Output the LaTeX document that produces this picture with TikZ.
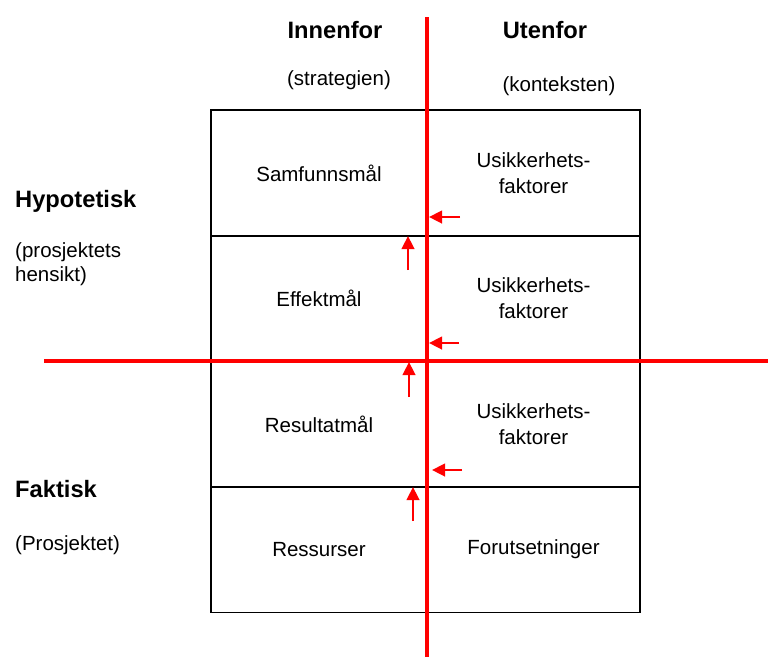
\documentclass[tikz,border=0pt]{standalone}
\usepackage{fontspec}
\setmainfont{Liberation Sans}
\usetikzlibrary{arrows.meta}
\begin{document}
\begin{tikzpicture}[x=1pt,y=-1pt,
  cell/.style={draw=black,line width=1.2pt,minimum width=#1,minimum height=126pt,
    inner sep=0pt,align=center,font=\fontsize{20.5}{24}\selectfont},
  head/.style={font=\fontsize{23.7}{28}\selectfont\bfseries,inner sep=0pt},
  sub/.style={font=\fontsize{20.5}{24}\selectfont,inner sep=0pt,align=left},
  axis/.style={draw=red,line width=3.6pt},
  push/.style={draw=red,line width=2.6pt,-{Triangle[length=13pt,width=12.5pt]}}]
\useasboundingbox (0,0) rectangle (768,657);
% grid of goal levels
\node[cell=216pt] (s) at (319,173) {Samfunnsmål};
\node[cell=213pt] (us) at (533.5,173) {Usikkerhets-\\[2pt]faktorer};
\node[cell=216pt] (e) at (319,298.5) {Effektmål};
\node[cell=213pt] (ue) at (533.5,298.5) {Usikkerhets-\\[2pt]faktorer};
\node[cell=216pt] (r) at (319,424) {Resultatmål};
\node[cell=213pt] (ur) at (533.5,424) {Usikkerhets-\\[2pt]faktorer};
\node[cell=216pt] (res) at (319,549.5) {Ressurser};
\node[cell=213pt] (f) at (533.5,549.5) {Forutsetninger};
% column and row headings
\node[head] (inn) at (335,30) {Innenfor};
\node[head] (ute) at (545,30) {Utenfor};
\node[sub] (str) at (339,80) {(strategien)};
\node[sub] (kon) at (559,86) {(konteksten)};
\node[head,anchor=west] (hyp) at (15,201) {Hypotetisk};
\node[sub,anchor=north west] (pro) at (15,242) {(prosjektets\\hensikt)};
\node[head,anchor=west] (fak) at (15,489) {Faktisk};
\node[sub,anchor=west] (prj) at (15,545) {(Prosjektet)};
% axes
\coordinate (vt) at (427,17);
\coordinate (vb) at (427,657);
\coordinate (hl) at (44,361);
\coordinate (hr) at (768,361);
\draw[axis] (vt) -- (vb);
\draw[axis] (hl) -- (hr);
% influence arrows
\coordinate (a1s) at (460,217); \coordinate (a1e) at (429,217);
\coordinate (a2s) at (459,343); \coordinate (a2e) at (429,343);
\coordinate (a3s) at (462,470); \coordinate (a3e) at (432,470);
\coordinate (b1s) at (408,270); \coordinate (b1e) at (408,236);
\coordinate (b2s) at (409,397); \coordinate (b2e) at (409,362);
\coordinate (b3s) at (413,521); \coordinate (b3e) at (413,487);
\draw[push] (a1s) -- (a1e);
\draw[push] (a2s) -- (a2e);
\draw[push] (a3s) -- (a3e);
\draw[push] (b1s) -- (b1e);
\draw[push] (b2s) -- (b2e);
\draw[push] (b3s) -- (b3e);
\end{tikzpicture}
\end{document}
